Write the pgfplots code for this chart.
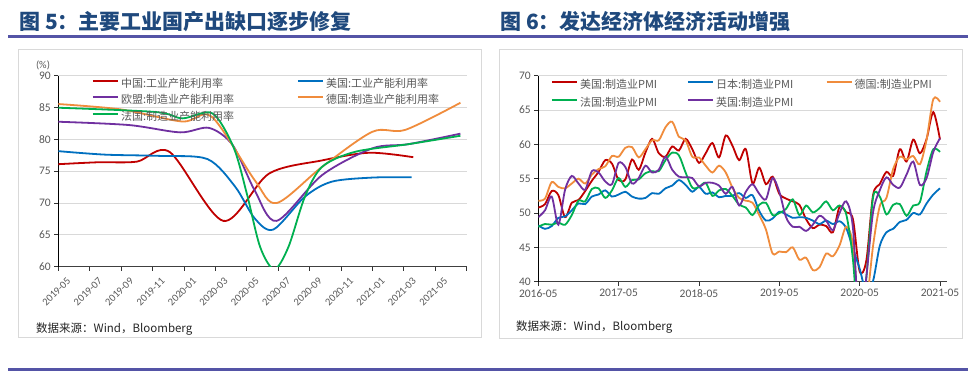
\documentclass[border=0pt]{standalone}
\usepackage{pgfplots}
\pgfplotsset{compat=1.18}
\usepackage{fontspec}
\setmainfont{Carlito}
\newfontfamily\cjk{Noto Sans CJK SC}
\definecolor{titleblue}{RGB}{31,73,125}
\definecolor{rulecol}{RGB}{84,84,166}
\definecolor{framegray}{RGB}{217,217,217}
\definecolor{gridgray}{RGB}{217,217,217}
\definecolor{labelgray}{RGB}{89,89,89}
\definecolor{srcgray}{RGB}{38,38,38}
\definecolor{cred}{RGB}{192,0,0}
\definecolor{cblue}{RGB}{0,112,192}
\definecolor{corange}{RGB}{240,140,60}
\definecolor{cgreen}{RGB}{0,176,80}
\definecolor{cpurple}{RGB}{112,48,160}
\pgfplotsset{
  common/.style={
    scale only axis,
    axis x line*=bottom, axis y line*=left,
    axis line style={-},
    x axis line style={draw=black!75, line width=1.2pt},
    y axis line style={draw=black, line width=1pt},
    ymajorgrids, grid style={draw=gridgray, line width=0.8pt},
    tick align=outside, major tick length=4pt,
    tick style={draw=black!80, line width=0.8pt},
    /pgf/number format/assume math mode=true,
    ticklabel style={font=\fontsize{11.5}{13}\selectfont, text=labelgray},
    every axis plot/.append style={line width=1.8pt, smooth, no marks},
    legend style={draw=none, fill=none, inner sep=0pt, anchor=north west,
      font=\cjk\fontsize{11}{13}\selectfont, text=labelgray,
      nodes={inner sep=0pt, text height=8.5pt, text depth=2.5pt}},
    legend cell align=left,
    legend image code/.code={\draw[##1, line width=1.8pt] (0pt,3.6pt) -- (25pt,3.6pt);},
  }
}
\begin{document}
\begin{tikzpicture}
\path[fill=white, use as bounding box] (0pt,0pt) rectangle (975pt,-378pt);
% titles and rules
\node[anchor=west, text=titleblue, font=\cjk\bfseries\fontsize{21}{24}\selectfont, inner sep=0pt] at (19pt,-22pt) {图 5：主要工业国产出缺口逐步修复};
\node[anchor=west, text=titleblue, font=\cjk\bfseries\fontsize{21}{24}\selectfont, inner sep=0pt] at (500pt,-22pt) {图 6：发达经济体经济活动增强};
\draw[rulecol, line width=2.5pt] (8pt,-36.7pt) -- (968pt,-36.7pt);
\draw[rulecol, line width=2.5pt] (8pt,-369.3pt) -- (968pt,-369.3pt);
\draw[framegray, line width=1pt] (18.5pt,-49pt) rectangle (481.7pt,-337.8pt);
\draw[framegray, line width=1pt] (499.3pt,-49pt) rectangle (962.5pt,-338.3pt);
\node[anchor=center, text=labelgray, font=\fontsize{10.5}{12}\selectfont] at (43pt,-65pt) {(\%)};
\node[anchor=west, text=srcgray, font=\cjk\fontsize{11.5}{13}\selectfont, inner sep=0pt] at (36pt,-329pt) {数据来源：Wind，Bloomberg};
\node[anchor=west, text=srcgray, font=\cjk\fontsize{11.5}{13}\selectfont, inner sep=0pt] at (516pt,-327pt) {数据来源：Wind，Bloomberg};

% ---------------- chart 1
\begin{axis}[common,
  at={(58.3pt,-266.7pt)}, anchor=south west,
  width=408.4pt, height=191pt,
  xmin=0, xmax=26, ymin=60, ymax=90,
  ytick={60,65,...,90},
  xtick={0,2,...,26},
  xticklabels={2019-05,2019-07,2019-09,2019-11,2020-01,2020-03,2020-05,2020-07,2020-09,2020-11,2021-01,2021-03,2021-05,},
  xticklabel style={xshift=13pt, yshift=-6pt, rotate=45, anchor=east, font=\fontsize{10.5}{12}\selectfont},
  legend columns=2,
  legend style={at={(0,1)}, xshift=33.4pt, yshift=-3pt, /tikz/row sep=5.5pt},
  /tikz/every odd column/.append style={column sep=2.3pt},
]
\addplot[cred] coordinates {(0,76.1) (2.5,76.4) (5.0,76.5) (7.1,78.0) (10.5,67.2) (13.4,74.6) (16.8,76.7) (19.8,77.9) (22.6,77.2)};
\addlegendentry{\makebox[176pt][l]{中国:工业产能利用率}}
\addplot[cblue] coordinates {(0,78.15) (3,77.6) (6.5,77.4) (9.5,76.9) (11.25,72.6) (12.5,67.6) (13.7,65.85) (15.7,71.0) (17.4,73.35) (20,74.0) (22.5,74.05)};
\addlegendentry{美国:工业产能利用率}
\addplot[cpurple] coordinates {(0,82.77) (4.5,82.25) (7.75,81.1) (9.6,81.8) (11.1,79.1) (12.5,72.0) (13.9,67.2) (16.8,74.4) (20,78.6) (22.3,79.25) (25.6,80.9)};
\addlegendentry{\makebox[176pt][l]{欧盟:制造业产能利用率}}
\addplot[corange] coordinates {(0,85.55) (4,84.7) (7.9,82.8) (9.77,83.55) (12.5,73.6) (13.9,70.0) (16.8,75.7) (20,81.2) (22.1,81.5) (25.6,85.75)};
\addlegendentry{德国:制造业产能利用率}
\addplot[cgreen] coordinates {(0,84.97) (6.2,84.3) (7.9,83.3) (9.8,84.1) (11.15,78.8) (12.0,71.5) (12.85,63.1) (13.75,59.6) (14.65,63.1) (15.7,71.0) (16.8,75.7) (18.9,78.05) (22.3,79.25) (25.6,80.57)};
\addlegendentry{\makebox[176pt][l]{法国:制造业产能利用率}}
\end{axis}

% ---------------- chart 2
\begin{axis}[common,
  at={(538.3pt,-281.7pt)}, anchor=south west,
  width=408.4pt, height=206pt,
  xmin=0, xmax=61, ymin=40, ymax=70,
  ytick={40,45,...,70},
  xtick={0,12,...,60},
  xticklabels={2016-05,2017-05,2018-05,2019-05,2020-05,2021-05},
  legend columns=3,
  legend style={at={(0,1)}, xshift=12.4pt, yshift=-3.8pt, /tikz/row sep=7.3pt},
  /tikz/every odd column/.append style={column sep=2.3pt},
]
\addplot[cred] table[x expr=\coordindex, y index=0] {
50.8
51.3
53.2
52.6
49.4
51.5
51.9
53.2
54.7
56.0
57.7
57.2
54.8
54.9
57.8
56.3
58.8
60.8
58.7
58.2
59.7
59.1
60.8
59.3
57.3
58.7
60.2
58.1
61.3
59.8
57.7
59.3
54.3
56.6
54.2
55.3
52.8
52.1
51.7
51.2
49.1
47.8
48.3
48.1
47.2
50.9
50.1
49.1
41.5
43.1
52.6
54.2
56.0
55.4
59.3
57.5
60.7
58.7
60.8
64.7
60.7
};
\addlegendentry{\makebox[107pt][l]{美国:制造业PMI}}
\addplot[cblue] table[x expr=\coordindex, y index=0] {
48.2
47.7
48.1
49.3
49.5
50.4
51.4
51.3
52.4
52.7
53.3
52.4
52.7
53.1
52.4
52.1
52.2
52.9
52.8
53.6
54.0
54.8
54.1
53.1
53.8
52.8
53.0
52.3
52.5
52.5
52.9
52.2
52.6
50.3
48.9
49.2
50.2
49.8
49.3
49.4
49.3
48.9
48.4
48.9
48.4
48.8
47.8
44.8
41.9
38.4
40.1
45.2
47.2
47.7
48.7
49.0
50.0
49.8
51.4
52.7
53.6
};
\addlegendentry{\makebox[109.5pt][l]{日本:制造业PMI}}
\addplot[corange] table[x expr=\coordindex, y index=0] {
51.8
52.1
54.5
53.8
53.6
54.3
55.0
54.3
55.6
56.4
56.8
58.3
58.2
59.5
59.6
58.1
59.3
60.6
60.6
62.5
63.3
61.1
60.6
58.2
58.1
56.9
55.9
56.9
55.9
53.7
52.2
51.8
51.5
49.7
47.6
44.1
44.4
44.3
45.0
43.2
43.5
41.7
42.1
44.1
43.7
45.3
48.0
45.4
34.5
36.6
45.2
51.0
52.2
56.4
58.2
57.8
58.3
57.1
60.7
66.6
66.2
};
\addlegendentry{德国:制造业PMI}
\addplot[cgreen] table[x expr=\coordindex, y index=0] {
48.0
48.4
48.3
48.6
48.3
49.7
51.8
51.7
53.5
53.6
52.2
53.3
55.1
53.8
54.8
54.9
55.8
56.1
56.1
57.7
58.8
58.4
55.9
53.7
53.8
54.4
52.5
53.3
53.5
52.5
51.2
50.8
49.7
51.2
51.5
49.7
50.0
50.6
52.0
49.7
51.1
50.1
50.7
51.7
50.4
51.1
49.8
43.2
31.5
40.6
52.3
52.4
49.8
51.2
51.3
49.6
51.1
51.6
56.1
59.3
58.9
};
\addlegendentry{\makebox[107pt][l]{法国:制造业PMI}}
\addplot[cpurple] table[x expr=\coordindex, y index=0] {
49.4
50.4
52.4
48.3
53.4
55.4
54.3
53.4
56.1
55.9
54.6
54.2
57.3
56.7
54.3
55.1
56.9
55.9
56.3
58.2
56.3
55.3
55.2
55.1
53.9
54.4
54.4
54.0
52.8
53.8
51.1
53.1
54.2
52.8
52.0
55.1
53.1
49.4
48.0
48.0
47.4
48.3
49.6
48.9
47.5
50.0
51.7
47.8
32.6
40.7
50.1
53.3
55.2
54.1
53.7
55.6
57.5
54.1
55.1
58.9
60.9
};
\addlegendentry{英国:制造业PMI}
\end{axis}
\end{tikzpicture}
\end{document}
